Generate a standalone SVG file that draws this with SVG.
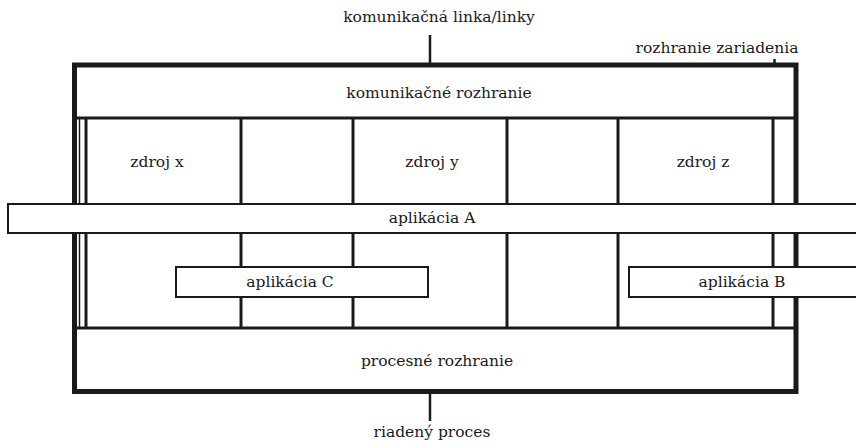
<svg xmlns="http://www.w3.org/2000/svg" width="856" height="448" viewBox="0 0 856 448">
<style>
text{font-family:"DejaVu Serif","Liberation Serif",serif;font-size:15.5px;fill:#1a1a1a;text-anchor:middle}
.outer{fill:#fff;stroke:#1a1a1a;stroke-width:5}
.div{stroke:#1a1a1a;stroke-width:3;fill:none}
.thin{stroke:#1a1a1a;stroke-width:1.5;fill:none}
.app{fill:#fff;stroke:#1a1a1a;stroke-width:2}
.conn{stroke:#1a1a1a;stroke-width:2.5;fill:none}
</style>
<rect width="856" height="448" fill="#fff"/>
<g id="device">
<rect class="outer" x="74.5" y="65" width="721.5" height="326.5"/>
<text x="717" y="53">rozhranie zariadenia</text>
</g>
<g id="comm-interface">
<line class="div" x1="77" y1="118" x2="794" y2="118"/>
<text x="439" y="98">komunikačné rozhranie</text>
</g>
<g id="process-interface">
<line class="div" x1="77" y1="328" x2="794" y2="328"/>
<text x="437" y="366">procesné rozhranie</text>
</g>
<g id="resources">
<line class="thin" x1="79.5" y1="118" x2="79.5" y2="328"/>
<line class="div" x1="86" y1="118" x2="86" y2="328"/>
<line class="div" x1="241" y1="118" x2="241" y2="328"/>
<line class="div" x1="353" y1="118" x2="353" y2="328"/>
<line class="div" x1="507" y1="118" x2="507" y2="328"/>
<line class="div" x1="618" y1="118" x2="618" y2="328"/>
<line class="div" x1="773" y1="118" x2="773" y2="328"/>
</g>
<g id="zdroj-x"><text x="157" y="167">zdroj x</text></g>
<g id="zdroj-y"><text x="432" y="167">zdroj y</text></g>
<g id="zdroj-z"><text x="703" y="167">zdroj z</text></g>
<g id="aplikacia-a">
<rect class="app" x="8" y="204" width="860" height="29"/>
<text x="432" y="223">aplikácia A</text>
</g>
<g id="aplikacia-c">
<rect class="app" x="176" y="267" width="252" height="30"/>
<text x="290" y="287">aplikácia C</text>
</g>
<g id="aplikacia-b">
<rect class="app" x="629" y="267" width="240" height="30"/>
<text x="742" y="287">aplikácia B</text>
</g>
<g id="connectors">
<line class="conn" x1="430" y1="35" x2="430" y2="64"/>
<line class="conn" x1="430" y1="393" x2="430" y2="421"/>
<line class="conn" x1="774.5" y1="59" x2="774.5" y2="64"/>
</g>
<g id="labels">
<text x="439" y="22">komunikačná linka/linky</text>
<text x="432" y="437">riadený proces</text>
</g>
</svg>
